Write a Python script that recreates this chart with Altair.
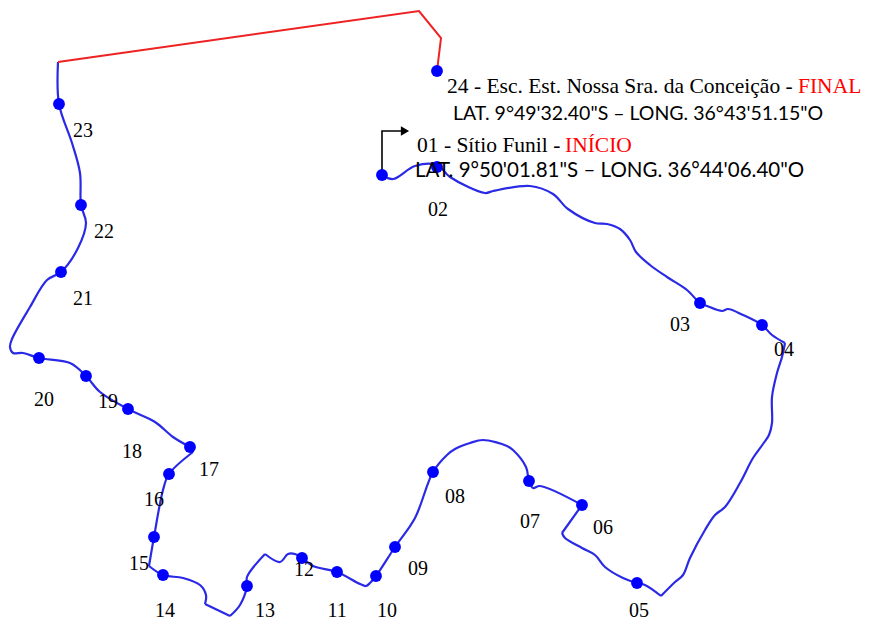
import altair as alt
import pandas as pd

# route (x/y in picture units)
blue_x = [382,393,415,437,450,485,493,530,553,568,595,607,620,630,636,650,667,687,700,707,722,728,743,762,772,785,782,777,772,772,769,763,753,740,725,715,705,690,683,675,661,645,637,623,605,595,582,565,562,582,540,533,529,526,513,507,483,470,455,447,433,415,395,376,370,366,360,337,313,302,295,288,280,265,247,247,240,230,205,206,200,183,163,149,154,163,169,193,190,173,155,128,100,86,70,39,23,13,10,12,30,47,61,78,86,81,80,72,59,58]
blue_y = [175,179,166,165,177,193,191,186,194,209,223,224,229,240,252,265,277,290,303,306,311,309,315,325,335,343,357,373,397,423,435,444,458,483,507,515,530,558,575,582,596,585,583,578,567,555,548,538,533,505,486,488,481,467,450,446,440,443,449,455,472,518,547,576,583,586,584,572,566,558,554,554,562,554,577,586,605,616,604,595,585,578,575,566,537,490,474,452,447,437,422,409,392,376,363,358,353,353,347,339,307,280,272,248,223,205,173,143,104,62]
# positions in the route where it turns sharply
corners = [25,40,48,49,73,77,78,83,87,88]
red_x = [58,419,441,437]
red_y = [62,11,38,71]
stop_x = [382,437,700,762,637,582,529,433,395,376,337,302,247,163,154,169,190,128,86,39,61,81,59,437]
stop_y = [175,167,303,325,583,505,481,472,547,576,572,558,586,575,537,474,447,409,376,358,272,205,104,71]
num_text = ["02","03","04","05","06","07","08","09","10","11","12","13","14","15","16","17","18","19","20","21","22","23"]
num_x = [438,680,784,639,603,530,455,418,387,337,304,265,165,139,154,209,132,108,44,83,104,83]
num_y = [216,331,356,617,534,528,503,575,617,617,576,617,617,570,506,476,458,408,406,305,238,137]
arrow_x = [382,382,402]
arrow_y = [175,131,131]
head_x = [405]
head_y = [131]
serif_text = ["24 - Esc. Est. Nossa Sra. da Conceição -","FINAL","01 - Sítio Funil -","INÍCIO"]
serif_x = [447,798,417,565]
serif_y = [93,93,152,152]
serif_color = ["black","red","black","red"]
coord_text = ["LAT. 9°49'32.40\"S – LONG. 36°43'51.15\"O","LAT. 9°50'01.81\"S – LONG. 36°44'06.40\"O"]
coord_x = [453,415]
coord_y = [120,177]

W, H = 853, 614
X = alt.Scale(domain=[8, 8 + W], nice=False, zero=False)
Y = alt.Scale(domain=[8 + H, 8], nice=False, zero=False)
x = alt.X("x:Q", scale=X, axis=None)
y = alt.Y("y:Q", scale=Y, axis=None)


def line(xs, ys, color, width, interp):
    df = pd.DataFrame({"x": xs, "y": ys, "o": range(len(xs))})
    return alt.Chart(df).mark_line(color=color, strokeWidth=width, interpolate=interp, clip=False).encode(x=x, y=y, order="o:Q")


edges = [0] + corners + [len(blue_x) - 1]
blue_parts = []
for a, b in zip(edges[:-1], edges[1:]):
    blue_parts.append(line(blue_x[a:b + 1], blue_y[a:b + 1], "#2a2ae6", 2.2, "catmull-rom"))
red = line(red_x, red_y, "#ee2222", 2, "linear")
arrow = line(arrow_x, arrow_y, "black", 1.6, "linear")
head = alt.Chart(pd.DataFrame({"x": head_x, "y": head_y})).mark_point(
    shape="triangle-right", filled=True, color="black", size=90, opacity=1).encode(x=x, y=y)
stops = alt.Chart(pd.DataFrame({"x": stop_x, "y": stop_y})).mark_circle(
    color="#0000ff", size=140, opacity=1).encode(x=x, y=y)
nums = alt.Chart(pd.DataFrame({"x": num_x, "y": num_y, "t": num_text})).mark_text(
    font="Liberation Serif", fontSize=20, color="black", align="center", baseline="alphabetic").encode(x=x, y=y, text="t:N")
serif = alt.Chart(pd.DataFrame({"x": serif_x, "y": serif_y, "t": serif_text, "c": serif_color})).mark_text(
    font="Liberation Serif", fontSize=21.5, align="left", baseline="alphabetic").encode(
    x=x, y=y, text="t:N", color=alt.Color("c:N", scale=None))


def coord(i, size):
    return alt.Chart(pd.DataFrame({"x": coord_x[i:i + 1], "y": coord_y[i:i + 1], "t": coord_text[i:i + 1]})).mark_text(
        font="Lato", fontSize=size, color="black", align="left", baseline="alphabetic").encode(x=x, y=y, text="t:N")


chart = alt.layer(*blue_parts, red, arrow, head, stops, nums, serif, coord(0, 19.5), coord(1, 20.5)).properties(
    width=W, height=H, padding=0, autosize=alt.AutoSizeParams(type="none"),
    background="white"
).configure_view(stroke=None)
chart.save("out.html", embed_options={"renderer": "svg", "actions": False})
